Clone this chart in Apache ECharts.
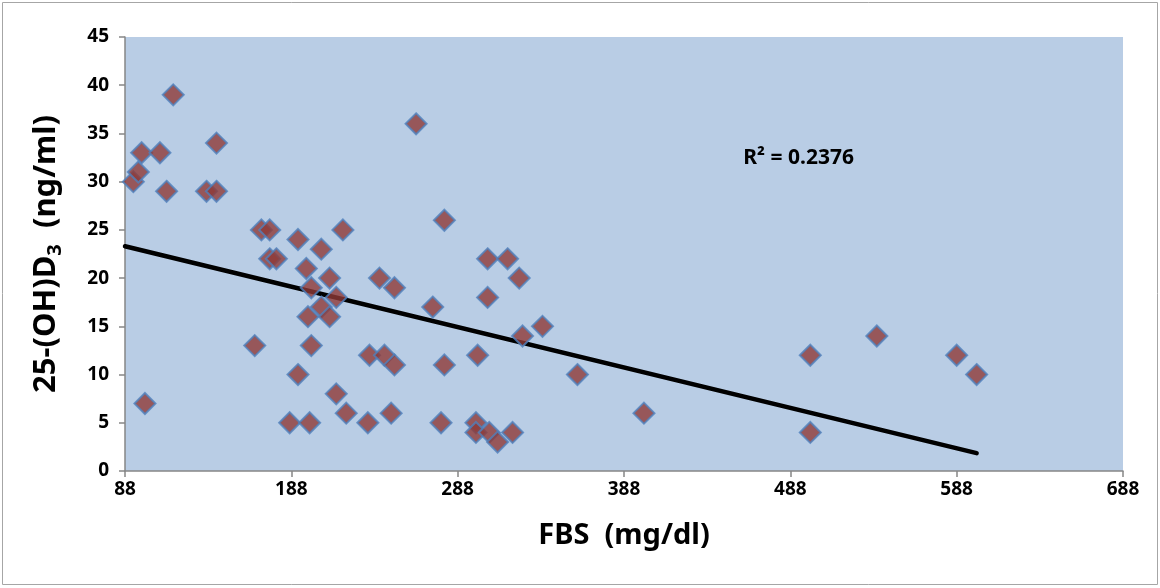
<!DOCTYPE html>
<html>
<head>
<meta charset="utf-8">
<script src="https://cdn.jsdelivr.net/npm/echarts@6/dist/echarts.min.js"></script>
<style>
  html, body { margin: 0; padding: 0; background: #ffffff; }
  #chart { width: 1160px; height: 588px; }
</style>
</head>
<body>
<div id="chart"></div>
<script>
// FBS (mg/dl) values
const fbs = [93, 96, 98, 100, 109, 113, 117, 137, 143, 143,
  166, 170, 175, 175, 179, 187, 192, 192, 197, 198, 199, 200, 200, 206, 206, 211, 211, 215, 215, 219, 221,
  234, 235, 241, 244, 248, 250, 250,
  263, 273, 278, 280, 280,
  299, 299, 300, 306, 306, 307, 312, 318, 321, 325, 327, 339,
  360, 400, 500, 500, 540, 588, 600];
// 25-(OH)D3 (ng/ml) values
const vitD = [30, 31, 33, 7, 33, 29, 39, 29, 29, 34,
  13, 25, 25, 22, 22, 5, 24, 10, 21, 16, 5, 13, 19, 23, 17, 20, 16, 18, 8, 25, 6,
  5, 12, 20, 12, 6, 19, 11,
  36, 17, 5, 26, 11,
  5, 4, 12, 22, 18, 4, 3, 22, 4, 20, 14, 15,
  10, 6, 12, 4, 14, 12, 10];
// linear trend line end points
const trendX = [88, 600];
const trendY = [23.3, 1.85];
const xTicks = [88, 188, 288, 388, 488, 588, 688];
const yTicks = [0, 5, 10, 15, 20, 25, 30, 35, 40, 45];
const rSquaredText = 'R² = 0.2376';
const rSquaredAt = [493, 32.5];

const points = fbs.map((x, i) => [x, vitD[i]]);
const trend = trendX.map((x, i) => [x, trendY[i]]);

const FONT = '"Noto Sans", "Open Sans", sans-serif';
const chart = echarts.init(document.getElementById('chart'), null, { renderer: 'canvas' });

chart.setOption({
  animation: false,
  backgroundColor: '#ffffff',
  graphic: [{
    type: 'rect',
    shape: { x: 2.5, y: 2.5, width: 1155, height: 582 },
    style: { fill: 'none', stroke: '#A6A6A6', lineWidth: 1 },
    silent: true
  }],
  grid: {
    left: 125, right: 37, top: 37, bottom: 117,
    show: true, backgroundColor: '#B9CDE5', borderWidth: 0
  },
  xAxis: {
    type: 'value',
    min: xTicks[0], max: xTicks[xTicks.length - 1],
    name: 'FBS  (mg/dl)',
    nameLocation: 'middle',
    nameGap: 50,
    nameTextStyle: { fontFamily: FONT, fontWeight: 'bold', fontSize: 29, color: '#000' },
    axisLine: { show: true, lineStyle: { color: '#868686', width: 1.5 } },
    axisTick: { show: true, inside: false, length: 6, customValues: xTicks, lineStyle: { color: '#868686', width: 1.5 } },
    axisLabel: { customValues: xTicks, margin: 9, fontFamily: FONT, fontWeight: 'bold', fontSize: 19, color: '#000' },
    splitLine: { show: false }
  },
  yAxis: {
    type: 'value',
    min: yTicks[0], max: yTicks[yTicks.length - 1], interval: 5,
    name: '{a|25-(OH)D}{s|3}{a|  (ng/ml)}',
    nameLocation: 'middle',
    nameGap: 60,
    nameRotate: 90,
    nameTextStyle: {
      rich: {
        a: { fontFamily: FONT, fontWeight: 'bold', fontSize: 31, color: '#000', lineHeight: 38 },
        s: { fontFamily: FONT, fontWeight: 'bold', fontSize: 20, color: '#000', lineHeight: 38, verticalAlign: 'bottom', padding: [15, 0, 0, 0] }
      }
    },
    axisLine: { show: true, lineStyle: { color: '#868686', width: 1.5 } },
    axisTick: { show: true, inside: false, length: 6, lineStyle: { color: '#868686', width: 1.5 } },
    axisLabel: { margin: 16, fontFamily: FONT, fontWeight: 'bold', fontSize: 19, color: '#000' },
    splitLine: { show: false }
  },
  series: [
    {
      type: 'line',
      data: trend,
      symbol: 'none',
      lineStyle: { color: '#000', width: 4.5, cap: 'round' },
      z: 2,
      markPoint: {
        symbol: 'circle', symbolSize: 0,
        data: [{ coord: rSquaredAt }],
        label: { show: true, position: 'inside', formatter: rSquaredText, fontFamily: FONT, fontWeight: 'bold', fontSize: 21, color: '#000' }
      }
    },
    {
      type: 'scatter',
      data: points,
      symbol: 'diamond',
      symbolSize: 21,
      itemStyle: { color: '#8E3A37', borderColor: '#4F81BD', borderWidth: 2 },
      z: 3
    }
  ]
});
</script>
</body>
</html>
